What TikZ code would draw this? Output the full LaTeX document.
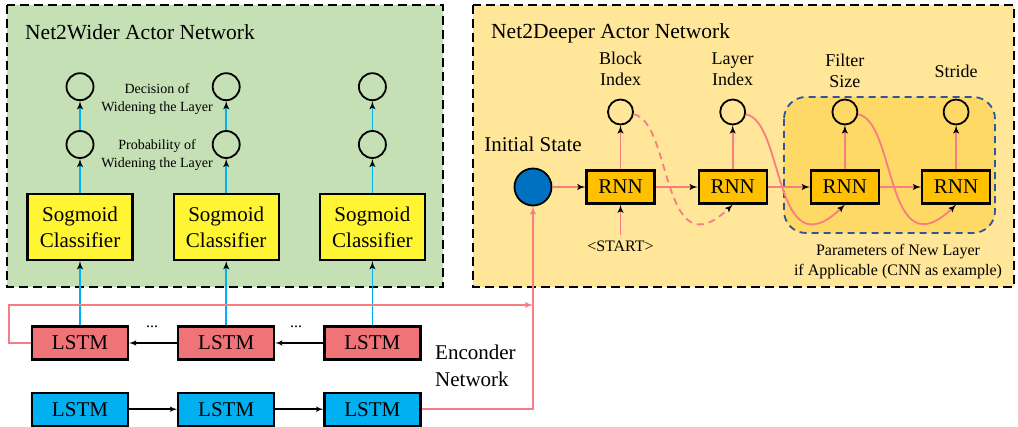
\documentclass[tikz,border=0pt]{standalone}
\usepackage{fontspec}
\setmainfont{Liberation Serif}
\usetikzlibrary{arrows,positioning}

\definecolor{widergreen}{HTML}{C5E0B4}
\definecolor{deeperyellow}{HTML}{FFE699}
\definecolor{paramyellow}{HTML}{FFD966}
\definecolor{paramblue}{HTML}{2F5597}
\definecolor{sogyellow}{HTML}{FFF533}
\definecolor{rnnorange}{HTML}{FFC000}
\definecolor{initblue}{HTML}{0070C0}
\definecolor{lstmred}{HTML}{F07378}
\definecolor{lstmblue}{HTML}{00B0F0}
\definecolor{pinkline}{HTML}{F87D82}
\definecolor{bluelink}{HTML}{00B0F0}

\begin{document}
\begin{tikzpicture}[x=1pt,y=-1pt,>=latex',every node/.append style={align=center},
    frame/.style={draw, line width=2.6pt, dash pattern=on 9pt off 5pt},
    box/.style={draw, line width=2.2pt, minimum width=96pt, minimum height=33pt, font=\fontsize{21}{26}\selectfont},
    sog/.style={box, fill=sogyellow, minimum width=105pt, minimum height=66pt},
    rnn/.style={box, fill=rnnorange, minimum width=68pt},
    unit/.style={draw, circle, line width=1.8pt, minimum size=27pt, inner sep=0pt},
    head/.style={unit, minimum size=25pt},
    title/.style={font=\fontsize{21.5}{25}\selectfont, inner sep=0pt, anchor=west},
    lbl/.style={font=\fontsize{18}{21}\selectfont, inner sep=2pt},
    small/.style={font=\fontsize{14}{18}\selectfont, inner sep=0pt},
    pinkarr/.style={->, draw=pinkline, line width=1.8pt},
    bluearr/.style={->, draw=bluelink, line width=1.8pt},
    dashline/.style={dash pattern=on 7pt off 5pt},
    hop/.style={out=-10, in=-136, out looseness=.75, in looseness=1.9}]
    \useasboundingbox (0,0) rectangle (1018,427);

    % panels
    \draw[frame, fill=widergreen] (7,5) rectangle (443,287);
    \draw[frame, fill=deeperyellow] (473,5) rectangle (1014,287);
    \draw[draw=paramblue, fill=paramyellow, line width=1.8pt, dashline, rounded corners=22pt] (784,97) rectangle (995,233);
    \node[title] (wtitle) at (25,32) {Net2Wider Actor Network};
    \node[title] (dtitle) at (491,33) {Net2Deeper Actor Network};

    % Net2Wider actor
    \node[sog] (c1) at (80,227) {Sogmoid\\Classifier};
    \node[sog, right=39pt of c1] (c2) {Sogmoid\\Classifier};
    \node[sog, right=39pt of c2] (c3) {Sogmoid\\Classifier};
    \foreach \i in {1,2,3} {
        \node[unit, above=34pt of c\i] (p\i) {};
        \node[unit, above=29pt of p\i] (d\i) {};
    }
    \node[small] (dlbl) at (157,99) {Decision of\\Widening the Layer};
    \node[small] (plbl) at (157,155) {Probability of\\Widening the Layer};

    % encoder
    \node[box, fill=lstmred] (l1) at (80,343) {LSTM};
    \node[box, fill=lstmred, right=48pt of l1] (l2) {LSTM};
    \node[box, fill=lstmred, right=48pt of l2] (l3) {LSTM};
    \node[box, fill=lstmblue, below=31pt of l1] (e1) {LSTM};
    \node[box, fill=lstmblue, right=48pt of e1] (e2) {LSTM};
    \node[box, fill=lstmblue, right=48pt of e2] (e3) {LSTM};
    \node[font=\fontsize{16}{16}\selectfont, anchor=base] (dots1) at (152,328) {...};
    \node[font=\fontsize{16}{16}\selectfont, anchor=base] (dots2) at (296,328) {...};
    \node[font=\fontsize{21}{27}\selectfont, align=left, inner sep=0pt, anchor=west] (enc) at (435,366) {Enconder\\Network};

    % Net2Deeper actor
    \node[unit, fill=initblue, minimum size=37pt] (init) at (533,187) {};
    \node[lbl, font=\fontsize{21}{26}\selectfont, above=14pt of init] (initlbl) {Initial State};
    \node[rnn, right=33pt of init] (r1) {RNN};
    \node[rnn, right=42pt of r1] (r2) {RNN};
    \node[rnn, right=42pt of r2] (r3) {RNN};
    \node[rnn, right=41pt of r3] (r4) {RNN};
    \foreach \i in {1,...,4}
        \node[head, above=44pt of r\i] (o\i) {};
    \node[lbl, above=11pt of o1] (blbl) {Block\\Index};
    \node[lbl, above=11pt of o2] (llbl) {Layer\\Index};
    \node[lbl, above=9pt of o3] (flbl) {Filter\\Size};
    \node[lbl, above=19pt of o4] (slbl) {Stride};
    \node[lbl, font=\fontsize{16}{20}\selectfont, inner sep=6pt, below=30pt of r1] (start) {<START>};
    \node[lbl, font=\fontsize{16}{20}\selectfont] (parlbl) at (898,262) {Parameters of New Layer\\if Applicable (CNN as example)};
    \coordinate (join) at (533,305);

    % connectors
    \path[bluearr] (c1) edge (p1) (p1) edge (d1)
        (c2) edge (p2) (p2) edge (d2)
        (c3) edge (p3) (p3) edge (d3)
        (l1) edge (c1) (l2) edge (c2) (l3) edge (c3);
    \path[->, line width=1.5pt] (l2) edge (l1) (l3) edge (l2) (e1) edge (e2) (e2) edge (e3);
    \path[pinkarr] (init) edge (r1) (r1) edge (r2) (r2) edge (r3) (r3) edge (r4)
        (r1) edge (o1) (r2) edge (o2) (r3) edge (o3) (r4) edge (o4)
        (start) edge (r1)
        (o1) edge[hop, dashline] (r2.south)
        (o2) edge[hop] (r3.south)
        (o3) edge[hop] (r4.south);
    \draw[pinkarr] (l1.west) -- ++(-22pt,0) |- (join);
    \draw[pinkarr] (e3.east) -| (init.south);
\end{tikzpicture}
\end{document}
